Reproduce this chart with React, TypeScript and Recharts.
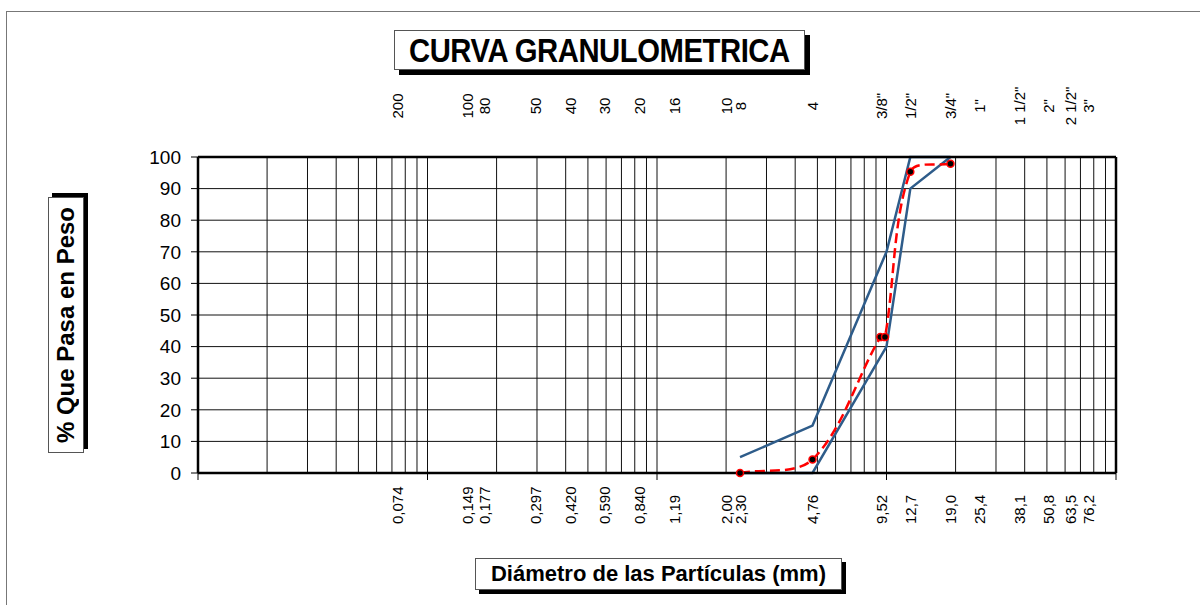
import { ComposedChart, Line, XAxis, YAxis, CartesianGrid, ReferenceLine } from 'recharts';

// sieve openings (mm) and their labels on the two x axes
const mmValues = [0.074, 0.149, 0.177, 0.297, 0.42, 0.59, 0.84, 1.19, 2.0, 2.3, 4.76, 9.52, 12.7, 19.0, 25.4, 38.1, 50.8, 63.5, 76.2];
const mmLabels = ['0,074', '0,149', '0,177', '0,297', '0,420', '0,590', '0,840', '1,19', '2,00', '2,30', '4,76', '9,52', '12,7', '19,0', '25,4', '38,1', '50,8', '63,5', '76,2'];
const sieveLabels = ['200', '100', '80', '50', '40', '30', '20', '16', '10', '8', '4', '3/8"', '1/2"', '3/4"', '1"', '1 1/2"', '2"', '2 1/2"', '3"'];

const decadeTicks = [0.01, 0.1, 1, 10, 100];
const yTicks = [0, 10, 20, 30, 40, 50, 60, 70, 80, 90, 100];

// upper / lower spec limits and the sample
const upperLimit = [
  { d: 2.3, p: 5 },
  { d: 4.76, p: 15 },
  { d: 10, p: 70 },
  { d: 12.7, p: 100 },
  { d: 19.0, p: 100 },
];
const lowerLimit = [
  { d: 2.3, p: 0 },
  { d: 4.76, p: 0 },
  { d: 10, p: 40 },
  { d: 12.7, p: 90 },
  { d: 19.0, p: 100 },
];
const sample = [
  { d: 2.3, p: 0 },
  { d: 4.76, p: 4.3 },
  { d: 9.4, p: 43 },
  { d: 9.85, p: 43 },
  { d: 12.7, p: 95.3 },
  { d: 19.0, p: 97.9 },
];

// log grid lines 2..9 in every decade plus the decade lines
const mantissas = [1, 2, 3, 4, 5, 6, 7, 8, 9];
const gridValues = [0.01, 0.1, 1, 10]
  .flatMap((dec) => mantissas.map((m) => +(dec * m).toPrecision(3)))
  .filter((v) => v > 0.01);

const BLUE = '#2E5C8A';

// smoothing similar to excel's "smoothed line"
const excelSmooth = (context: any) => {
  let pts: number[][] = [];
  return {
    areaStart() {},
    areaEnd() {},
    lineStart() {
      pts = [];
    },
    point(x: number, y: number) {
      pts.push([+x, +y]);
    },
    lineEnd() {
      const n = pts.length;
      if (!n) return;
      context.moveTo(pts[0][0], pts[0][1]);
      if (n === 1) return;
      const dist = (a: number[], b: number[]) => Math.hypot(b[0] - a[0], b[1] - a[1]);
      const tangent = (i: number) => {
        const a = pts[Math.max(i - 1, 0)];
        const b = pts[Math.min(i + 1, n - 1)];
        return [b[0] - a[0], b[1] - a[1]];
      };
      for (let i = 0; i < n - 1; i++) {
        const p1 = pts[i];
        const p2 = pts[i + 1];
        const dPrev = i > 0 ? dist(pts[i - 1], p1) : 0;
        const dCur = dist(p1, p2);
        const dNext = i + 2 < n ? dist(p2, pts[i + 2]) : 0;
        const t1 = tangent(i);
        const t2 = tangent(i + 1);
        const k1 = dCur / (dPrev + dCur) / 3;
        const k2 = dCur / (dCur + dNext) / 3;
        context.bezierCurveTo(
          p1[0] + t1[0] * k1,
          p1[1] + t1[1] * k1,
          p2[0] - t2[0] * k2,
          p2[1] - t2[1] * k2,
          p2[0],
          p2[1]
        );
      }
    },
  };
};

const BottomTick = (props: any) => {
  const { x, y, payload } = props;
  const v = payload.value;
  const idx = mmValues.indexOf(v);
  const ly = y + 44;
  return (
    <g>
      {decadeTicks.includes(v) && <line x1={x} x2={x} y1={y - 7} y2={y} stroke="#000" strokeWidth={1} />}
      {idx >= 0 && (
        <text x={x} y={ly} transform={`rotate(-90 ${x} ${ly})`} textAnchor="start" dominantBaseline="central" fontSize={15} fill="#000">
          {mmLabels[idx]}
        </text>
      )}
    </g>
  );
};

const TopTick = (props: any) => {
  const { x, y, payload } = props;
  const idx = mmValues.indexOf(payload.value);
  if (idx < 0) return <g />;
  const ly = y - 51;
  return (
    <text x={x} y={ly} transform={`rotate(-90 ${x} ${ly})`} textAnchor="middle" dominantBaseline="central" fontSize={15} fill="#000">
      {sieveLabels[idx]}
    </text>
  );
};

const SampleDot = (props: any) => {
  const { cx, cy } = props;
  return <circle cx={cx} cy={cy} r={3.5} fill="#000" stroke="#ff0000" strokeWidth={1.5} />;
};

const boxStyle: any = {
  position: 'absolute',
  background: '#fff',
  border: '1px solid #555',
  display: 'flex',
  alignItems: 'center',
  justifyContent: 'center',
  fontWeight: 'bold',
  color: '#000',
  whiteSpace: 'nowrap',
  boxSizing: 'border-box',
};

export default function App() {
  return (
    <div
      style={{
        position: 'absolute',
        left: 0,
        top: 0,
        width: 1200,
        height: 605,
        overflow: 'hidden',
        background: '#fff',
        fontFamily: '"Liberation Sans", Arial, sans-serif',
      }}
    >
      <div style={{ position: 'absolute', left: 6, top: 11, width: 1300, height: 700, borderTop: '1px solid #777', borderLeft: '1px solid #777' }} />
      <div style={{ position: 'absolute', left: 0, top: 0 }}>
        <ComposedChart width={1200} height={605} margin={{ top: 60, right: 84, bottom: 20, left: 140 }}>
          <CartesianGrid vertical={false} stroke="#111" strokeWidth={1} />
          {gridValues.map((v) => (
            <ReferenceLine key={v} x={v} stroke="#111" strokeWidth={1} />
          ))}
          <ReferenceLine x={100} stroke="#000" strokeWidth={2.5} />
          <XAxis
            dataKey="d"
            type="number"
            scale="log"
            domain={[0.01, 100]}
            allowDataOverflow
            ticks={[...decadeTicks, ...mmValues].sort((a, b) => a - b)}
            interval={0}
            tick={<BottomTick />}
            tickLine={false}
            tickSize={7}
            tickMargin={0}
            axisLine={{ stroke: '#000', strokeWidth: 2.5 }}
            height={112}
          />
          <XAxis
            xAxisId="top"
            orientation="top"
            dataKey="d"
            type="number"
            scale="log"
            domain={[0.01, 100]}
            allowDataOverflow
            ticks={mmValues}
            interval={0}
            tick={<TopTick />}
            tickLine={false}
            tickSize={0}
            tickMargin={0}
            axisLine={{ stroke: '#000', strokeWidth: 2.5 }}
            height={97}
          />
          <YAxis
            type="number"
            domain={[0, 100]}
            ticks={yTicks}
            interval={0}
            width={58}
            tickSize={7}
            tickMargin={10}
            tick={{ fontSize: 19, fill: '#000' }}
            tickLine={{ stroke: '#000' }}
            axisLine={{ stroke: '#000', strokeWidth: 2.5 }}
          />
          <Line data={upperLimit} dataKey="p" type="linear" stroke={BLUE} strokeWidth={2.5} dot={false} isAnimationActive={false} />
          <Line data={lowerLimit} dataKey="p" type="linear" stroke={BLUE} strokeWidth={2.5} dot={false} isAnimationActive={false} />
          <Line
            data={sample}
            dataKey="p"
            type={excelSmooth as any}
            stroke="#ff0000"
            strokeWidth={2.5}
            strokeDasharray="10 5"
            dot={<SampleDot />}
            isAnimationActive={false}
          />
        </ComposedChart>
      </div>
      <div style={{ ...boxStyle, left: 394, top: 30, width: 411, height: 40, boxShadow: '5px 5px 0 #000', fontSize: 34 }}>
        <span style={{ display: 'inline-block', transform: 'scaleX(0.86)', letterSpacing: -0.5 }}>CURVA GRANULOMETRICA</span>
      </div>
      <div style={{ ...boxStyle, left: 48, top: 197, width: 36, height: 256, boxShadow: '4px -4px 0 #000', fontSize: 24 }}>
        <span style={{ writingMode: 'vertical-rl', transform: 'rotate(180deg)' }}>% Que Pasa en Peso</span>
      </div>
      <div style={{ ...boxStyle, left: 475, top: 558, width: 367, height: 32, boxShadow: '4px 4px 0 #000', fontSize: 22 }}>
        Diámetro de las Partículas (mm)
      </div>
    </div>
  );
}
